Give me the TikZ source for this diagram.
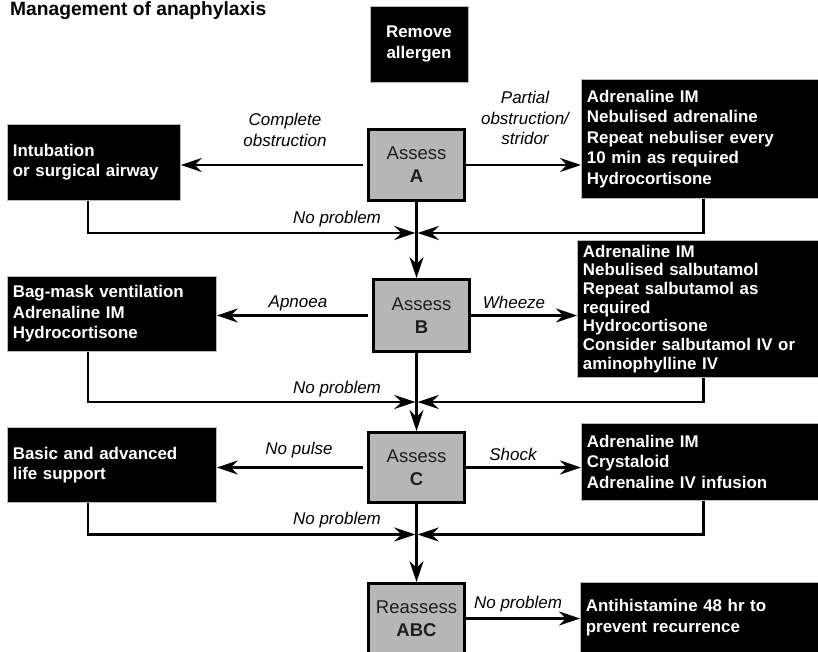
\documentclass[tikz,border=0pt]{standalone}
\usepackage{fontspec}
\setmainfont{Liberation Sans}
\usetikzlibrary{arrows.meta}
\definecolor{assessgray}{RGB}{182,182,182}
\definecolor{assesstext}{RGB}{30,30,30}
\begin{document}
\begin{tikzpicture}[x=1pt,y=-1pt,
  arr/.style={line width=2.4pt,-{Stealth[length=21pt,width=14pt,inset=7pt]}},
  plain/.style={line width=2.4pt},
  assessbox/.style={draw=black,line width=3pt,fill=assessgray,text=assesstext,
    minimum width=96pt,inner sep=0pt,align=center,
    font=\fontsize{18.5}{23}\selectfont},
  actionbox/.style={draw=gray!55,line width=0.8pt,fill=black,text=white,
    anchor=north west,inner xsep=5.5pt,inner ysep=0pt,align=left,
    font=\fontsize{16.9}{20.5}\selectfont\bfseries},
  cond/.style={inner sep=0pt,font=\fontsize{17}{20.5}\selectfont\itshape,align=center}
]
\useasboundingbox (0,0) rectangle (818,652);
\clip (0,0) rectangle (818,652);
\fill[white] (0,0) rectangle (818,652);

% title
\node[anchor=base west,inner sep=0pt,font=\fontsize{19.2}{22}\selectfont\bfseries] (title) at (10,16) {Management of anaphylaxis};

% first step, standing alone
\node[actionbox,anchor=center,align=center,minimum width=98pt,minimum height=76pt] (remove) at (419,44) {Remove\\allergen};

% assessment boxes
\node[assessbox,minimum height=71pt] (A) at (416.5,165) {Assess\\\textbf{A}};
\node[assessbox,minimum height=72pt] (B) at (421.5,315.5) {Assess\\\textbf{B}};
\node[assessbox,minimum height=70pt] (C) at (416.5,467.5) {Assess\\\textbf{C}};
\node[assessbox,minimum height=70pt] (R) at (416.5,618.5) {Reassess\\\textbf{ABC}};

% treatment boxes, left column
\node[actionbox,text width=162pt,minimum height=76pt] (intub) at (7,124) {Intubation\\or surgical airway};
\node[actionbox,text width=198pt,minimum height=75pt] (bag) at (7,276) {Bag-mask ventilation\\Adrenaline IM\\Hydrocortisone};
\node[actionbox,text width=198pt,minimum height=75pt] (basic) at (7,427) {Basic and advanced\\life support};

% treatment boxes, right column
\node[actionbox,text width=230pt,minimum height=119pt] (RA) at (581,79) {Adrenaline IM\\Nebulised adrenaline\\Repeat nebuliser every\\10 min as required\\Hydrocortisone};
\node[actionbox,text width=234pt,minimum height=137pt,font=\fontsize{16.9}{18.7}\selectfont\bfseries] (RB) at (577,240) {Adrenaline IM\\Nebulised salbutamol\\Repeat salbutamol as\\required\\Hydrocortisone\\Consider salbutamol IV or\\aminophylline IV};
\node[actionbox,text width=230pt,minimum height=77pt] (RC) at (581,423) {Adrenaline IM\\Crystaloid\\Adrenaline IV infusion};
\node[actionbox,text width=231pt,minimum height=70pt] (anti) at (580,582) {Antihistamine 48 hr to\\prevent recurrence};

% return lines and junctions
\coordinate (lx) at (88,0);
\coordinate (rx) at (703.5,0);
\coordinate (j1) at (416.5,233);
\coordinate (j2) at (416.5,402);
\coordinate (j3) at (416.5,534.5);

% step A
\draw[arr,shorten <=4pt] (A.west) -- (A.west -| intub.east);
\draw[arr] (A.east) -- (A.east -| RA.west);
\draw[arr,shorten >=1.2pt] (intub.south -| lx) |- (j1);
\draw[arr,shorten >=1.2pt] (RA.south -| rx) |- (j1);
\draw[arr] (A.south) -- (A.south |- B.north);

% step B
\draw[arr,shorten <=4pt] (B.west) -- (B.west -| bag.east);
\draw[arr] (B.east) -- (B.east -| RB.west);
\draw[arr,shorten >=1.2pt] (bag.south -| lx) |- (j2);
\draw[arr,shorten >=1.2pt] (RB.south -| rx) |- (j2);
\draw[arr] (B.south -| C.north) -- (C.north);

% step C
\draw[arr,shorten <=4pt] (C.west) -- (C.west -| basic.east);
\draw[arr] (C.east) -- (C.east -| RC.west);
\draw[arr,shorten >=1.2pt] (basic.south -| lx) |- (j3);
\draw[arr,shorten >=1.2pt] (RC.south -| rx) |- (j3);
\draw[arr] (C.south) -- (C.south |- R.north);

% reassessment
\draw[arr] (R.east) -- (R.east -| anti.west);

% condition labels
\node[cond,anchor=north] (l1) at (285,113) {Complete\\obstruction};
\node[cond,anchor=north] (l2) at (525,91) {Partial\\obstruction/\\stridor};
\node[cond,anchor=base] (l3) at (337,224) {No problem};
\node[cond,anchor=base] (l4) at (298,307) {Apnoea};
\node[cond,anchor=base] (l5) at (514,308) {Wheeze};
\node[cond,anchor=base] (l6) at (337,393) {No problem};
\node[cond,anchor=base] (l7) at (299,454) {No pulse};
\node[cond,anchor=base] (l8) at (513,460) {Shock};
\node[cond,anchor=base] (l9) at (337,524) {No problem};
\node[cond,anchor=base] (l10) at (518,608) {No problem};
\end{tikzpicture}
\end{document}
